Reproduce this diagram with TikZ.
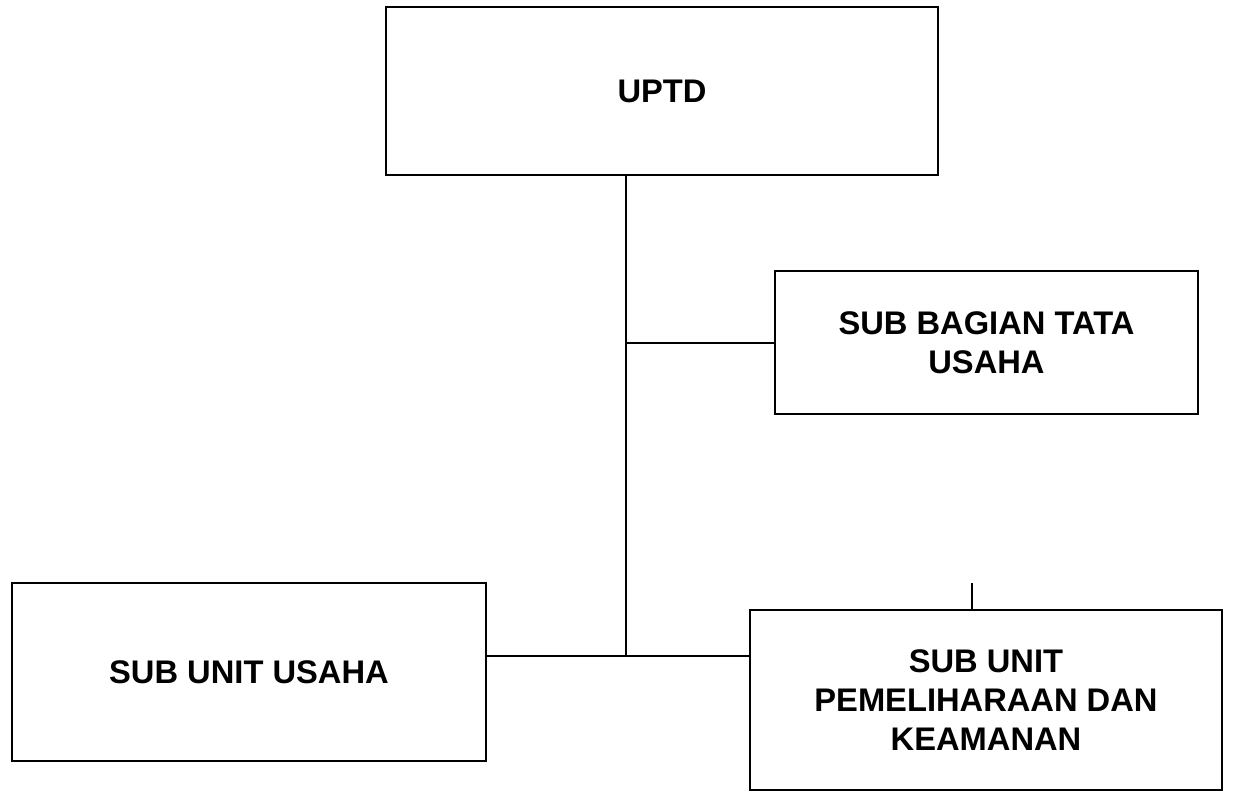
\documentclass[tikz,border=0pt]{standalone}
\usepackage{fontspec}
\setmainfont{Liberation Sans}
\begin{document}
\begin{tikzpicture}
  \tikzstyle{unit}=[draw, line width=1.1pt, align=center, inner sep=0pt,
    font=\fontsize{18.6}{22}\selectfont\bfseries]
  \tikzstyle{link}=[line width=1.1pt]

  \useasboundingbox (0, 0) rectangle (24.96, -15.86);

  \node[unit, minimum width=11.04cm, minimum height=3.36cm] (uptd) at (13.24, -1.82) {UPTD};
  \node[unit, minimum width=8.46cm, minimum height=2.86cm] (tatausaha) at (19.73, -6.85) {SUB BAGIAN TATA\\USAHA};
  \node[unit, minimum width=9.48cm, minimum height=3.56cm] (usaha) at (4.98, -13.44) {SUB UNIT USAHA};
  \node[unit, minimum width=9.44cm, minimum height=3.6cm] (pemeliharaan) at (19.72, -14.0) {SUB UNIT\\PEMELIHARAAN DAN\\KEAMANAN};

  \coordinate (j1) at (12.52, -6.86);
  \coordinate (j2) at (12.52, -13.12);
  \coordinate (stub) at (19.44, -11.66);

  \draw[link] (uptd.south -| j1) -- (j2);
  \draw[link] (j1) -- (j1 -| tatausaha.west);
  \draw[link] (j2 -| usaha.east) -- (j2 -| pemeliharaan.west);
  \draw[link] (stub) -- (stub |- pemeliharaan.north);
\end{tikzpicture}
\end{document}
